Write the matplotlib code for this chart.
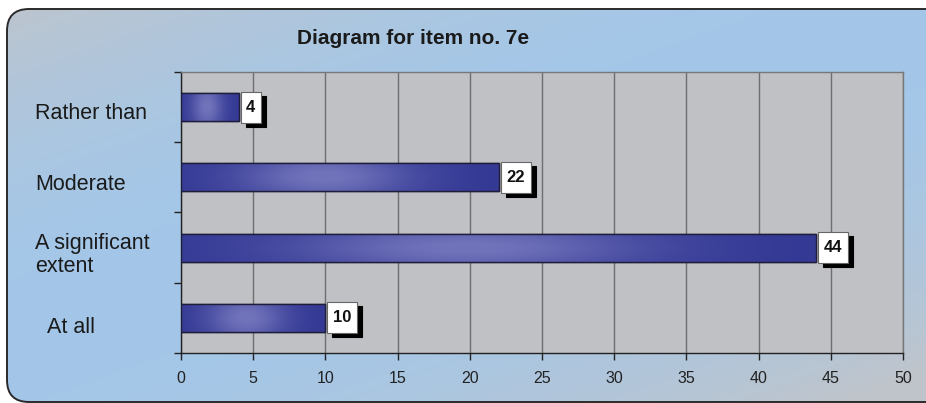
import numpy as np
import matplotlib
matplotlib.use("Agg")
import matplotlib.pyplot as plt
import matplotlib.transforms as mtrans
from matplotlib.patches import FancyBboxPatch, Rectangle

plt.rcParams['font.family'] = ['Liberation Sans', 'DejaVu Sans']

# data (top to bottom)
categories = ["Rather than", "Moderate", "A significant\nextent", "At all"]
values = [4, 22, 44, 10]
x_ticks = [0, 5, 10, 15, 20, 25, 30, 35, 40, 45, 50]
title = "Diagram for item no. 7e"

W, H = 926, 403
fig = plt.figure(figsize=(W / 100, H / 100), dpi=100)
fig.patch.set_facecolor("white")

# rounded panel with grey -> light blue gradient
bg = fig.add_axes([0, 0, 1, 1])
bg.set_xlim(0, W)
bg.set_ylim(H, 0)
bg.axis("off")
gray = np.array([196, 196, 198]) / 255
blue = np.array([163, 199, 233]) / 255
gx, gy = np.meshgrid(np.linspace(0, 1, 300), np.linspace(0, 1, 150))
u = (gx * 0.9 + gy * 1.1) / 2
t = np.clip(np.sin(np.pi * np.clip(u * 1.05, 0, 1)) ** 0.8, 0, 1)
t = 0.15 + 0.85 * t
img = gray[None, None, :] * (1 - t[..., None]) + blue[None, None, :] * t[..., None]
panel = FancyBboxPatch((7, 9), 950, 393, boxstyle="round,pad=0,rounding_size=22",
                       fc="none", ec="#2a2a2a", lw=1.4, zorder=3)
bg.add_patch(panel)
im = bg.imshow(img, extent=[0, W, H, 0], aspect="auto", zorder=1)
im.set_clip_path(panel)

bg.text(413, 39, title, ha="center", va="center", fontsize=15, fontweight="bold",
        color="#1a1a1a")

# plot area
ax = fig.add_axes([181 / W, 50 / H, 722 / W, 281 / H])
ax.set_facecolor("#c0c1c5")
n = len(categories)
ypos = np.arange(n)[::-1]
bars = ax.barh(ypos, values, height=0.4, color="#333a94", edgecolor="#1e1e3a",
               lw=1.0, zorder=3)

# horizontal shine on each bar
dark = np.array([0x33, 0x38, 0x94]) / 255
light = np.array([0x72, 0x74, 0xbb]) / 255
bx, by = np.meshgrid(np.linspace(0, 1, 200), np.linspace(0, 1, 30))
f = np.exp(-((bx - 0.45) / 0.28) ** 2) * (0.75 + 0.25 * np.sin(np.pi * by))
shine = dark[None, None, :] * (1 - f[..., None]) + light[None, None, :] * f[..., None]
for b in bars:
    x0, y0 = b.get_x(), b.get_y()
    w, h = b.get_width(), b.get_height()
    g = ax.imshow(shine, extent=[x0, x0 + w, y0, y0 + h], aspect="auto", zorder=3.5)
    g.set_clip_path(b)
    ax.add_patch(Rectangle((x0, y0), w, h, fc="none", ec="#1e1e3a", lw=1.0, zorder=4))

ax.set_xlim(0, 50)
ax.set_ylim(-0.5, n - 0.5)

# value boxes with drop shadow
px_x = 722 / 50.0
px_y = 281 / n
for yv, v in zip(ypos, values):
    s = str(v)
    bw = (10 + 10 * len(s)) / px_x
    bh = 31 / px_y
    x0 = v + 2 / px_x
    ax.add_patch(Rectangle((x0 + 5 / px_x, yv - bh / 2 - 4 / px_y), bw, bh,
                           fc="black", ec="black", lw=0.8, zorder=5, clip_on=False))
    ax.add_patch(Rectangle((x0, yv - bh / 2), bw, bh, fc="white", ec="#666666",
                           lw=0.8, zorder=6, clip_on=False))
    ax.text(x0 + bw / 2, yv, s, ha="center", va="center", fontsize=12,
            fontweight="bold", color="#111111", zorder=7)

# grid / axes
ax.set_xticks(x_ticks)
ax.set_xticklabels([str(x) for x in x_ticks], fontsize=11.5, color="#222222")
ax.xaxis.grid(True, color="#6e6e6e", lw=1.0, zorder=1)
ax.set_axisbelow(True)
ax.tick_params(axis="x", direction="out", length=5, width=1, color="#222222", pad=8)

ax.set_yticks(np.arange(n + 1) - 0.5)
ax.set_yticklabels([])
ax.tick_params(axis="y", direction="out", length=5, width=1, color="#222222")
ax.set_yticks(ypos - 0.06, minor=True)
labels = ax.set_yticklabels(categories, minor=True, fontsize=15.5, color="#1a1a1a",
                            ha="left", linespacing=1.1)
ax.tick_params(axis="y", which="minor", length=0, pad=105)
# last label sits a bit further right in the original
labels[-1].set_transform(labels[-1].get_transform() +
                         mtrans.ScaledTranslation(0.12, -0.03, fig.dpi_scale_trans))

for side in ["left", "bottom"]:
    ax.spines[side].set_color("#222222")
    ax.spines[side].set_linewidth(1.0)
for side in ["top", "right"]:
    ax.spines[side].set_color("#777777")
    ax.spines[side].set_linewidth(1.0)

fig.savefig("out.png", dpi=100)
